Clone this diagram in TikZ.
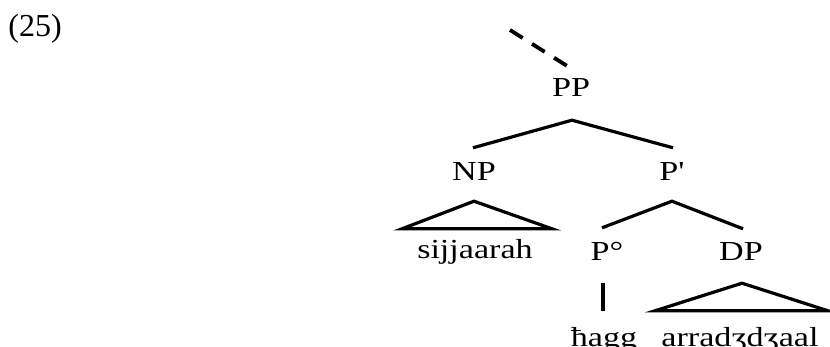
\documentclass[tikz,border=0pt]{standalone}
\usepackage{fontspec}
\setmainfont{Liberation Serif}
\newfontfamily\treefont{Liberation Serif}[FakeStretch=1.24]
\usetikzlibrary{calc}
\begin{document}
\begin{tikzpicture}[x=1pt,y=-1pt,
  lab/.style={font=\treefont\fontsize{27.5}{30}\selectfont, inner sep=0pt, anchor=base, text height=19pt, text depth=6pt},
  branch/.style={line width=3.2pt, line cap=butt},
  dashbranch/.style={line width=3.8pt, dash pattern=on 15pt off 11pt}
]
\useasboundingbox (0,0) rectangle (830,347);
\node[anchor=base, font=\fontsize{32}{36}\selectfont, inner sep=0pt] (ex) at (35,37) {(25)};
\node[lab] (PP) at (571,97) {PP};
\node[lab] (NP) at (474,181) {NP};
\node[lab] (Pbar) at (672,181) {P'};
\node[lab] (sij) at (475,259) {sijjaarah};
\node[lab] (P0) at (607,261) {P°};
\node[lab] (DP) at (741,261) {DP};
\node[lab] (hagg) at (604,346) {ħagg};
\node[lab] (arr) at (740,346) {arradʒdʒaal};
\coordinate (up) at (510,30);
% dashed line to higher structure
\draw[dashbranch] (up) -- ($(PP.north)+(-1,-10)$);
% PP branches
\draw[branch] ($(NP.north)+(-1,-14)$) -- ($(PP.south)+(1,17)$) -- ($(Pbar.north)+(1,-14)$);
% NP triangle
\draw[branch, line join=miter] ($(sij.north)+(-73,-11)$) -- ($(NP.south)+(0,14)$) -- ($(sij.north)+(77,-11)$) -- cycle;
% P' branches
\draw[branch] ($(P0.north)+(-5,-14)$) -- ($(Pbar.south)+(0,14)$) -- ($(DP.north)+(2,-13)$);
% P° to hagg
\draw[branch] ($(P0.south)+(-4,16)$) -- ($(hagg.north)+(-1,-16)$);
% DP triangle
\draw[branch, line join=miter] ($(arr.north)+(-85,-16)$) -- ($(DP.south)+(1,16)$) -- ($(arr.north)+(88,-16)$) -- cycle;
\end{tikzpicture}
\end{document}
